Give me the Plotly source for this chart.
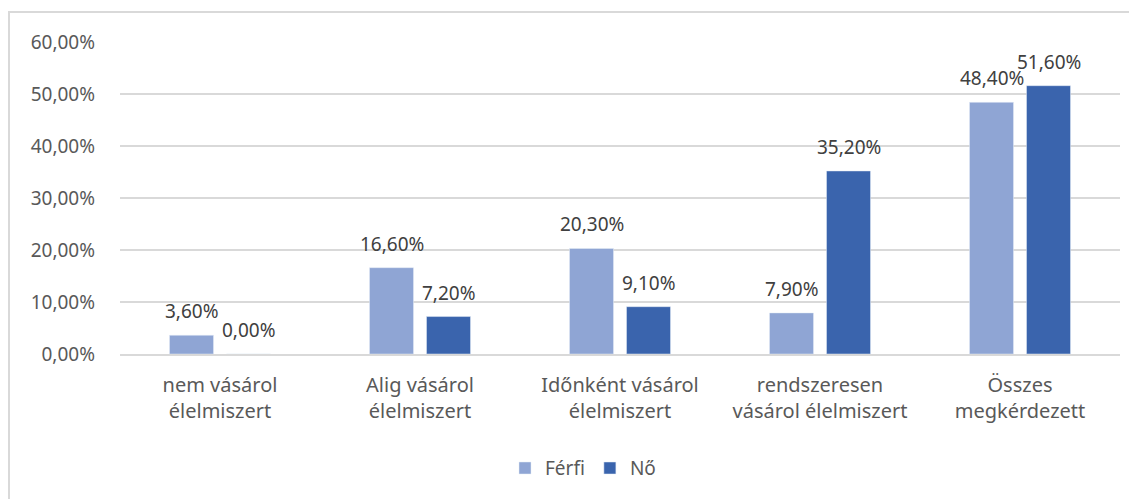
import plotly.graph_objects as go

# categories (two-line labels as in the chart)
categories = ["nem vásárol<br>élelmiszert", "Alig vásárol<br>élelmiszert",
              "Időnként vásárol<br>élelmiszert", "rendszeresen<br>vásárol élelmiszert",
              "Összes<br>megkérdezett"]
ferfi = [3.6, 16.6, 20.3, 7.9, 48.4]
no = [0.0, 7.2, 9.1, 35.2, 51.6]
y_ticks = [0, 10, 20, 30, 40, 50, 60]


def hu_pct(v):
    # Hungarian style: decimal comma
    return f"{v:.2f}".replace(".", ",") + "%"


font = dict(family="Noto Sans, Open Sans, sans-serif", color="#595959")

fig = go.Figure()
fig.add_trace(go.Bar(x=categories, y=ferfi, name="Férfi", marker_color="#8FA5D4"))
fig.add_trace(go.Bar(x=categories, y=no, name="Nő", marker_color="#3A64AD"))

# data labels as annotations so they can sit a bit higher above the bars
for vals, dx in [(ferfi, -28.5), (no, 28.5)]:
    for c, v in zip(categories, vals):
        fig.add_annotation(x=c, y=v, text=hu_pct(v), showarrow=False, xshift=dx,
                           yanchor="bottom", yshift=9,
                           font=dict(size=19, color="#404040"))

# page body has an 8px margin, so the figure is a bit smaller than the window
fig.update_layout(
    width=1129, height=491,
    margin=dict(l=112, r=17, t=34, b=145),
    paper_bgcolor="white", plot_bgcolor="white",
    font=dict(size=19, **font),
    barmode="group", bargap=0.43, bargroupgap=0.228,
    showlegend=True,
    legend=dict(orientation="h", x=0.463, xanchor="center", y=-0.305, yanchor="top",
                font=dict(size=19)),
    xaxis=dict(tickfont=dict(size=20), showline=True, linecolor="#D9D9D9", linewidth=2,
               ticks="", ticklabelstandoff=12),
    yaxis=dict(range=[0, 60], tickvals=y_ticks, ticktext=[hu_pct(v) for v in y_ticks],
               showgrid=True, gridcolor="#D9D9D9", gridwidth=2, zeroline=False,
               ticklabelstandoff=24, tickfont=dict(size=19)),
    shapes=[dict(type="rect", xref="paper", yref="paper", x0=-0.111, x1=1.03,
                 y0=-0.5, y1=1.096, line=dict(color="#D9D9D9", width=2))],
)

fig.write_html("out.html")
